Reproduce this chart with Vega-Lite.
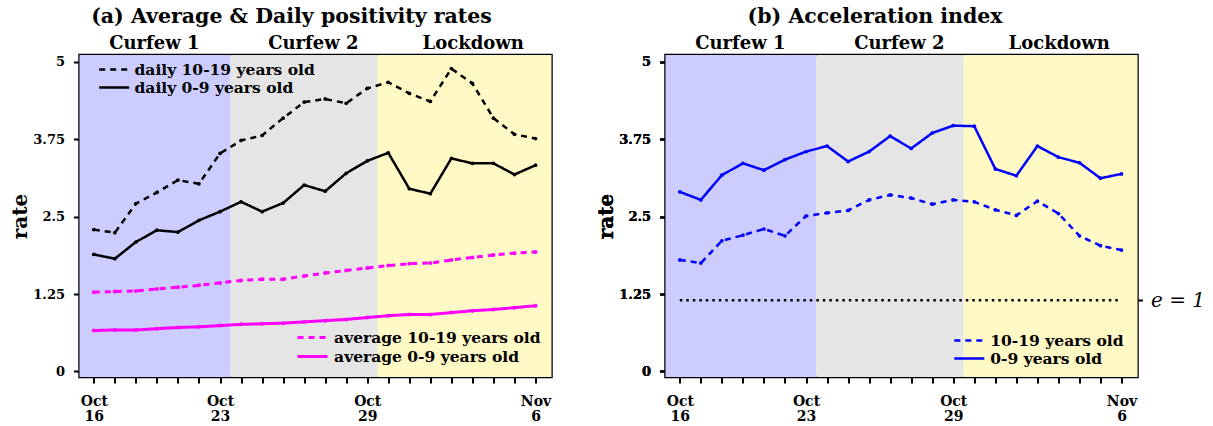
{
  "$schema": "https://vega.github.io/schema/vega-lite/v6.json",
  "background": "white",
  "padding": {"left": 9.5, "top": 5, "right": 5, "bottom": 5},
  "config": {
    "font": "DejaVu Serif",
    "view": {"stroke": "black", "strokeWidth": 2.5},
    "axis": {"domain": false, "grid": false, "tickColor": "black", "tickWidth": 2, "tickSize": 6, "labelFont": "DejaVu Serif", "labelFontWeight": "bold", "labelColor": "black", "titleFont": "DejaVu Serif", "titleFontWeight": "bold", "titleColor": "black"},
    "legend": {"orient": "none", "title": null, "padding": 0, "symbolType": "M-2,0H2", "symbolSize": 225, "symbolStrokeWidth": 2.5, "labelFont": "DejaVu Serif", "labelFontWeight": "bold", "labelFontSize": 15.5, "labelColor": "black", "labelLimit": 0},
    "title": {"font": "DejaVu Serif", "fontWeight": "bold", "fontSize": 20.5, "color": "black", "anchor": "middle"},
    "concat": {"spacing": 42}
  },
  "resolve": {"scale": {"strokeDash": "independent", "color": "independent"}, "legend": {"strokeDash": "independent"}},
  "datasets": {
    "periods": [
      {"period": "Curfew 1", "d": -0.68, "d2": 6.5},
      {"period": "Curfew 2", "d": 6.5, "d2": 13.5},
      {"period": "Lockdown", "d": 13.5, "d2": 21.76}
    ],
    "labels": [
      {"period": "Curfew 1", "d": 2.88},
      {"period": "Curfew 2", "d": 10.44},
      {"period": "Lockdown", "d": 18.04}
    ],
    "a": [
      {"g": "daily", "s": "daily 10-19 years old", "d": 0, "v": 2.29},
      {"g": "daily", "s": "daily 10-19 years old", "d": 1, "v": 2.24},
      {"g": "daily", "s": "daily 10-19 years old", "d": 2, "v": 2.71},
      {"g": "daily", "s": "daily 10-19 years old", "d": 3, "v": 2.89},
      {"g": "daily", "s": "daily 10-19 years old", "d": 4, "v": 3.09},
      {"g": "daily", "s": "daily 10-19 years old", "d": 5, "v": 3.03},
      {"g": "daily", "s": "daily 10-19 years old", "d": 6, "v": 3.52},
      {"g": "daily", "s": "daily 10-19 years old", "d": 7, "v": 3.73},
      {"g": "daily", "s": "daily 10-19 years old", "d": 8, "v": 3.81},
      {"g": "daily", "s": "daily 10-19 years old", "d": 9, "v": 4.09},
      {"g": "daily", "s": "daily 10-19 years old", "d": 10, "v": 4.35},
      {"g": "daily", "s": "daily 10-19 years old", "d": 11, "v": 4.40},
      {"g": "daily", "s": "daily 10-19 years old", "d": 12, "v": 4.33},
      {"g": "daily", "s": "daily 10-19 years old", "d": 13, "v": 4.57},
      {"g": "daily", "s": "daily 10-19 years old", "d": 14, "v": 4.67},
      {"g": "daily", "s": "daily 10-19 years old", "d": 15, "v": 4.49},
      {"g": "daily", "s": "daily 10-19 years old", "d": 16, "v": 4.36},
      {"g": "daily", "s": "daily 10-19 years old", "d": 17, "v": 4.89},
      {"g": "daily", "s": "daily 10-19 years old", "d": 18, "v": 4.65},
      {"g": "daily", "s": "daily 10-19 years old", "d": 19, "v": 4.09},
      {"g": "daily", "s": "daily 10-19 years old", "d": 20, "v": 3.83},
      {"g": "daily", "s": "daily 10-19 years old", "d": 21, "v": 3.76},
      {"g": "daily", "s": "daily 0-9 years old", "d": 0, "v": 1.89},
      {"g": "daily", "s": "daily 0-9 years old", "d": 1, "v": 1.82},
      {"g": "daily", "s": "daily 0-9 years old", "d": 2, "v": 2.09},
      {"g": "daily", "s": "daily 0-9 years old", "d": 3, "v": 2.28},
      {"g": "daily", "s": "daily 0-9 years old", "d": 4, "v": 2.25},
      {"g": "daily", "s": "daily 0-9 years old", "d": 5, "v": 2.44},
      {"g": "daily", "s": "daily 0-9 years old", "d": 6, "v": 2.58},
      {"g": "daily", "s": "daily 0-9 years old", "d": 7, "v": 2.74},
      {"g": "daily", "s": "daily 0-9 years old", "d": 8, "v": 2.58},
      {"g": "daily", "s": "daily 0-9 years old", "d": 9, "v": 2.72},
      {"g": "daily", "s": "daily 0-9 years old", "d": 10, "v": 3.01},
      {"g": "daily", "s": "daily 0-9 years old", "d": 11, "v": 2.91},
      {"g": "daily", "s": "daily 0-9 years old", "d": 12, "v": 3.20},
      {"g": "daily", "s": "daily 0-9 years old", "d": 13, "v": 3.40},
      {"g": "daily", "s": "daily 0-9 years old", "d": 14, "v": 3.53},
      {"g": "daily", "s": "daily 0-9 years old", "d": 15, "v": 2.95},
      {"g": "daily", "s": "daily 0-9 years old", "d": 16, "v": 2.87},
      {"g": "daily", "s": "daily 0-9 years old", "d": 17, "v": 3.44},
      {"g": "daily", "s": "daily 0-9 years old", "d": 18, "v": 3.36},
      {"g": "daily", "s": "daily 0-9 years old", "d": 19, "v": 3.36},
      {"g": "daily", "s": "daily 0-9 years old", "d": 20, "v": 3.18},
      {"g": "daily", "s": "daily 0-9 years old", "d": 21, "v": 3.33},
      {"g": "average", "s": "average 10-19 years old", "d": 0, "v": 1.28},
      {"g": "average", "s": "average 10-19 years old", "d": 1, "v": 1.29},
      {"g": "average", "s": "average 10-19 years old", "d": 2, "v": 1.30},
      {"g": "average", "s": "average 10-19 years old", "d": 3, "v": 1.33},
      {"g": "average", "s": "average 10-19 years old", "d": 4, "v": 1.36},
      {"g": "average", "s": "average 10-19 years old", "d": 5, "v": 1.39},
      {"g": "average", "s": "average 10-19 years old", "d": 6, "v": 1.43},
      {"g": "average", "s": "average 10-19 years old", "d": 7, "v": 1.47},
      {"g": "average", "s": "average 10-19 years old", "d": 8, "v": 1.49},
      {"g": "average", "s": "average 10-19 years old", "d": 9, "v": 1.49},
      {"g": "average", "s": "average 10-19 years old", "d": 10, "v": 1.54},
      {"g": "average", "s": "average 10-19 years old", "d": 11, "v": 1.59},
      {"g": "average", "s": "average 10-19 years old", "d": 12, "v": 1.63},
      {"g": "average", "s": "average 10-19 years old", "d": 13, "v": 1.67},
      {"g": "average", "s": "average 10-19 years old", "d": 14, "v": 1.71},
      {"g": "average", "s": "average 10-19 years old", "d": 15, "v": 1.74},
      {"g": "average", "s": "average 10-19 years old", "d": 16, "v": 1.75},
      {"g": "average", "s": "average 10-19 years old", "d": 17, "v": 1.80},
      {"g": "average", "s": "average 10-19 years old", "d": 18, "v": 1.84},
      {"g": "average", "s": "average 10-19 years old", "d": 19, "v": 1.88},
      {"g": "average", "s": "average 10-19 years old", "d": 20, "v": 1.91},
      {"g": "average", "s": "average 10-19 years old", "d": 21, "v": 1.93},
      {"g": "average", "s": "average 0-9 years old", "d": 0, "v": 0.66},
      {"g": "average", "s": "average 0-9 years old", "d": 1, "v": 0.67},
      {"g": "average", "s": "average 0-9 years old", "d": 2, "v": 0.67},
      {"g": "average", "s": "average 0-9 years old", "d": 3, "v": 0.69},
      {"g": "average", "s": "average 0-9 years old", "d": 4, "v": 0.71},
      {"g": "average", "s": "average 0-9 years old", "d": 5, "v": 0.72},
      {"g": "average", "s": "average 0-9 years old", "d": 6, "v": 0.74},
      {"g": "average", "s": "average 0-9 years old", "d": 7, "v": 0.76},
      {"g": "average", "s": "average 0-9 years old", "d": 8, "v": 0.77},
      {"g": "average", "s": "average 0-9 years old", "d": 9, "v": 0.78},
      {"g": "average", "s": "average 0-9 years old", "d": 10, "v": 0.80},
      {"g": "average", "s": "average 0-9 years old", "d": 11, "v": 0.82},
      {"g": "average", "s": "average 0-9 years old", "d": 12, "v": 0.84},
      {"g": "average", "s": "average 0-9 years old", "d": 13, "v": 0.87},
      {"g": "average", "s": "average 0-9 years old", "d": 14, "v": 0.90},
      {"g": "average", "s": "average 0-9 years old", "d": 15, "v": 0.92},
      {"g": "average", "s": "average 0-9 years old", "d": 16, "v": 0.92},
      {"g": "average", "s": "average 0-9 years old", "d": 17, "v": 0.95},
      {"g": "average", "s": "average 0-9 years old", "d": 18, "v": 0.98},
      {"g": "average", "s": "average 0-9 years old", "d": 19, "v": 1.00},
      {"g": "average", "s": "average 0-9 years old", "d": 20, "v": 1.03},
      {"g": "average", "s": "average 0-9 years old", "d": 21, "v": 1.06}
    ],
    "b": [
      {"s": "10-19 years old", "d": 0, "v": 1.80},
      {"s": "10-19 years old", "d": 1, "v": 1.75},
      {"s": "10-19 years old", "d": 2, "v": 2.11},
      {"s": "10-19 years old", "d": 3, "v": 2.20},
      {"s": "10-19 years old", "d": 4, "v": 2.30},
      {"s": "10-19 years old", "d": 5, "v": 2.19},
      {"s": "10-19 years old", "d": 6, "v": 2.51},
      {"s": "10-19 years old", "d": 7, "v": 2.56},
      {"s": "10-19 years old", "d": 8, "v": 2.60},
      {"s": "10-19 years old", "d": 9, "v": 2.77},
      {"s": "10-19 years old", "d": 10, "v": 2.85},
      {"s": "10-19 years old", "d": 11, "v": 2.80},
      {"s": "10-19 years old", "d": 12, "v": 2.70},
      {"s": "10-19 years old", "d": 13, "v": 2.77},
      {"s": "10-19 years old", "d": 14, "v": 2.74},
      {"s": "10-19 years old", "d": 15, "v": 2.61},
      {"s": "10-19 years old", "d": 16, "v": 2.52},
      {"s": "10-19 years old", "d": 17, "v": 2.75},
      {"s": "10-19 years old", "d": 18, "v": 2.55},
      {"s": "10-19 years old", "d": 19, "v": 2.19},
      {"s": "10-19 years old", "d": 20, "v": 2.03},
      {"s": "10-19 years old", "d": 21, "v": 1.96},
      {"s": "0-9 years old", "d": 0, "v": 2.90},
      {"s": "0-9 years old", "d": 1, "v": 2.77},
      {"s": "0-9 years old", "d": 2, "v": 3.17},
      {"s": "0-9 years old", "d": 3, "v": 3.36},
      {"s": "0-9 years old", "d": 4, "v": 3.25},
      {"s": "0-9 years old", "d": 5, "v": 3.42},
      {"s": "0-9 years old", "d": 6, "v": 3.55},
      {"s": "0-9 years old", "d": 7, "v": 3.64},
      {"s": "0-9 years old", "d": 8, "v": 3.39},
      {"s": "0-9 years old", "d": 9, "v": 3.55},
      {"s": "0-9 years old", "d": 10, "v": 3.80},
      {"s": "0-9 years old", "d": 11, "v": 3.60},
      {"s": "0-9 years old", "d": 12, "v": 3.85},
      {"s": "0-9 years old", "d": 13, "v": 3.97},
      {"s": "0-9 years old", "d": 14, "v": 3.96},
      {"s": "0-9 years old", "d": 15, "v": 3.27},
      {"s": "0-9 years old", "d": 16, "v": 3.16},
      {"s": "0-9 years old", "d": 17, "v": 3.64},
      {"s": "0-9 years old", "d": 18, "v": 3.46},
      {"s": "0-9 years old", "d": 19, "v": 3.37},
      {"s": "0-9 years old", "d": 20, "v": 3.12},
      {"s": "0-9 years old", "d": 21, "v": 3.19}
    ],
    "threshold": [{"label": "e = 1", "v": 1.15, "d": 0, "d2": 21}]
  },
  "hconcat": [
    {
      "width": 472,
      "height": 322,
      "title": {"text": "(a) Average & Daily positivity rates", "offset": 8, "dx": -24},
      "encoding": {
        "x": {"field": "d", "type": "quantitative", "scale": {"domain": [-0.68, 21.76], "nice": false, "zero": false},
          "axis": {"title": null, "values": [0,1,2,3,4,5,6,7,8,9,10,11,12,13,14,15,16,17,18,19,20,21], "labelExpr": "datum.value==0?['Oct','16']:datum.value==6?['Oct','23']:datum.value==13?['Oct','29']:datum.value==21?['Nov','6']:''", "labelFontSize": 14, "labelLineHeight": 15, "labelPadding": 11, "labelFlush": false, "labelOverlap": false, "labelBound": false}}
      },
      "layer": [
        {
          "data": {"name": "periods"},
          "mark": {"type": "rect"},
          "encoding": {
            "x2": {"field": "d2"},
            "color": {"field": "period", "type": "nominal", "scale": {"domain": ["Curfew 1", "Curfew 2", "Lockdown"], "range": ["#CCCCFF", "#E5E5E5", "#FFF9C6"]}, "legend": null}
          }
        },
        {
          "data": {"name": "labels"},
          "mark": {"type": "text", "dy": -11, "fontSize": 18, "fontWeight": "bold", "font": "DejaVu Serif", "color": "black"},
          "encoding": {
            "y": {"datum": 5.11, "type": "quantitative", "scale": {"domain": [-0.09, 5.11], "nice": false, "zero": false},
              "axis": {"orient": "left", "values": [0, 1.25, 2.5, 3.75, 5], "labelExpr": "'' + datum.value", "title": "rate", "titleFontSize": 20, "labelFontSize": 13, "labelPadding": 9, "titlePadding": 2}},
            "text": {"field": "period"}
          }
        },
        {
          "data": {"name": "a"},
          "transform": [{"filter": "datum.g == 'daily'"}],
          "mark": {"type": "line", "color": "black", "strokeWidth": 2.5},
          "encoding": {
            "y": {"field": "v", "type": "quantitative", "scale": {"domain": [-0.09, 5.11], "nice": false, "zero": false},
              "axis": {"orient": "left", "values": [0, 1.25, 2.5, 3.75, 5], "labelExpr": "'' + datum.value", "title": "rate", "titleFontSize": 20, "labelFontSize": 13, "labelPadding": 9, "titlePadding": 2}},
            "strokeDash": {"field": "s", "type": "nominal", "scale": {"domain": ["daily 10-19 years old", "daily 0-9 years old"], "range": [[6, 5], [1, 0]]},
              "legend": {"legendX": 25.7, "legendY": 5.5, "symbolStrokeColor": "black", "labelOffset": 11.3, "rowPadding": -2}}
          }
        },
        {
          "data": {"name": "a"},
          "transform": [{"filter": "datum.g == 'daily'"}],
          "mark": {"type": "circle", "color": "black", "size": 14, "opacity": 1},
          "encoding": {
            "y": {"field": "v", "type": "quantitative", "scale": {"domain": [-0.09, 5.11], "nice": false, "zero": false},
              "axis": {"orient": "left", "values": [0, 1.25, 2.5, 3.75, 5], "labelExpr": "'' + datum.value", "title": "rate", "titleFontSize": 20, "labelFontSize": 13, "labelPadding": 9, "titlePadding": 2}}
          }
        },
        {
          "data": {"name": "a"},
          "transform": [{"filter": "datum.g == 'average'"}],
          "mark": {"type": "line", "color": "#FF00FF", "strokeWidth": 3},
          "encoding": {
            "y": {"field": "v", "type": "quantitative", "scale": {"domain": [-0.09, 5.11], "nice": false, "zero": false},
              "axis": {"orient": "left", "values": [0, 1.25, 2.5, 3.75, 5], "labelExpr": "'' + datum.value", "title": "rate", "titleFontSize": 20, "labelFontSize": 13, "labelPadding": 9, "titlePadding": 2}},
            "strokeDash": {"field": "s", "type": "nominal", "scale": {"domain": ["average 10-19 years old", "average 0-9 years old"], "range": [[6, 5], [1, 0]]},
              "legend": {"legendX": 224, "legendY": 273.6, "symbolStrokeColor": "#FF00FF", "symbolStrokeWidth": 3, "labelOffset": 12.6, "rowPadding": 1}}
          }
        },
        {
          "data": {"name": "a"},
          "transform": [{"filter": "datum.g == 'average'"}],
          "mark": {"type": "circle", "color": "#FF00FF", "size": 16, "opacity": 1},
          "encoding": {
            "y": {"field": "v", "type": "quantitative", "scale": {"domain": [-0.09, 5.11], "nice": false, "zero": false},
              "axis": {"orient": "left", "values": [0, 1.25, 2.5, 3.75, 5], "labelExpr": "'' + datum.value", "title": "rate", "titleFontSize": 20, "labelFontSize": 13, "labelPadding": 9, "titlePadding": 2}}
          }
        }
      ],
      "resolve": {"scale": {"strokeDash": "independent"}, "legend": {"strokeDash": "independent"}}
    },
    {
      "width": 472,
      "height": 322,
      "title": {"text": "(b) Acceleration index", "offset": 8, "dx": -26.5},
      "encoding": {
        "x": {"field": "d", "type": "quantitative", "scale": {"domain": [-0.68, 21.76], "nice": false, "zero": false},
          "axis": {"title": null, "values": [0,1,2,3,4,5,6,7,8,9,10,11,12,13,14,15,16,17,18,19,20,21], "labelExpr": "datum.value==0?['Oct','16']:datum.value==6?['Oct','23']:datum.value==13?['Oct','29']:datum.value==21?['Nov','6']:''", "labelFontSize": 14, "labelLineHeight": 15, "labelPadding": 11, "labelFlush": false, "labelOverlap": false, "labelBound": false}}
      },
      "layer": [
        {
          "data": {"name": "periods"},
          "mark": {"type": "rect"},
          "encoding": {
            "x2": {"field": "d2"},
            "color": {"field": "period", "type": "nominal", "scale": {"domain": ["Curfew 1", "Curfew 2", "Lockdown"], "range": ["#CCCCFF", "#E5E5E5", "#FFF9C6"]}, "legend": null}
          }
        },
        {
          "data": {"name": "labels"},
          "mark": {"type": "text", "dy": -11, "fontSize": 18, "fontWeight": "bold", "font": "DejaVu Serif", "color": "black"},
          "encoding": {
            "y": {"datum": 5.11, "type": "quantitative", "scale": {"domain": [-0.09, 5.11], "nice": false, "zero": false},
              "axis": {"orient": "left", "values": [0, 1.25, 2.5, 3.75, 5], "labelExpr": "'' + datum.value", "title": "rate", "titleFontSize": 20, "labelFontSize": 13, "labelPadding": 9, "titlePadding": 2}},
            "text": {"field": "period"}
          }
        },
        {
          "data": {"name": "b"},
          "mark": {"type": "line", "color": "#0000FF", "strokeWidth": 2.5},
          "encoding": {
            "y": {"field": "v", "type": "quantitative", "scale": {"domain": [-0.09, 5.11], "nice": false, "zero": false},
              "axis": {"orient": "left", "values": [0, 1.25, 2.5, 3.75, 5], "labelExpr": "'' + datum.value", "title": "rate", "titleFontSize": 20, "labelFontSize": 13, "labelPadding": 9, "titlePadding": 2}},
            "strokeDash": {"field": "s", "type": "nominal", "scale": {"domain": ["10-19 years old", "0-9 years old"], "range": [[6, 5], [1, 0]]},
              "legend": {"legendX": 294.8, "legendY": 276.5, "symbolStrokeColor": "#0000FF", "labelOffset": 12, "rowPadding": -0.5}}
          }
        },
        {
          "data": {"name": "b"},
          "mark": {"type": "circle", "color": "#0000FF", "size": 14, "opacity": 1},
          "encoding": {
            "y": {"field": "v", "type": "quantitative", "scale": {"domain": [-0.09, 5.11], "nice": false, "zero": false},
              "axis": {"orient": "left", "values": [0, 1.25, 2.5, 3.75, 5], "labelExpr": "'' + datum.value", "title": "rate", "titleFontSize": 20, "labelFontSize": 13, "labelPadding": 9, "titlePadding": 2}}
          }
        },
        {
          "data": {"name": "threshold"},
          "mark": {"type": "rule", "color": "black", "strokeWidth": 2.5, "strokeDash": [2.5, 4]},
          "encoding": {
            "x2": {"field": "d2"},
            "y": {"field": "v", "type": "quantitative", "scale": {"domain": [-0.09, 5.11], "nice": false, "zero": false},
              "axis": {"orient": "right", "values": [1.15], "labelExpr": "'e = 1'", "title": null, "labelFontWeight": "normal", "labelFontStyle": "italic", "labelFontSize": 20, "tickSize": 5, "labelPadding": 8}}
          }
        }
      ]
    }
  ]
}
